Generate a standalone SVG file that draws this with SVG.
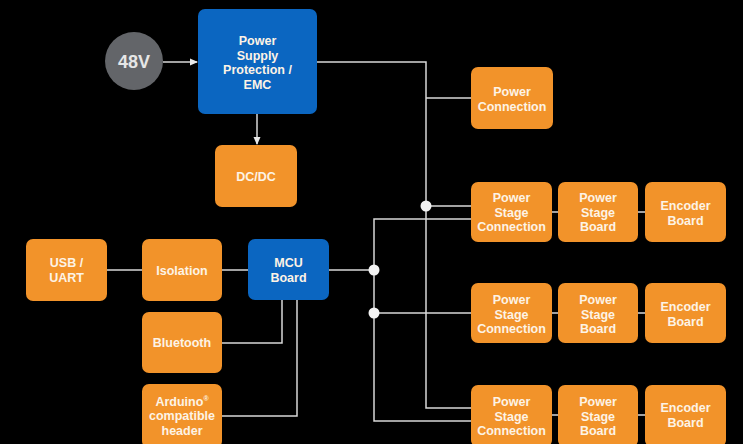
<svg xmlns="http://www.w3.org/2000/svg" width="743" height="444" viewBox="0 0 743 444">
<style>
.o{fill:#f2932a}
.b{fill:#0b66c1}
.t{font-family:"Liberation Sans",Arial,sans-serif;font-weight:bold;font-size:12.5px;fill:#fdf3e6;text-anchor:middle;dominant-baseline:central}
.c{fill:none;stroke:#d8d8d8;stroke-width:1.5}
.d{fill:#f2f2f2}
</style>
<defs>
<marker id="ah" markerWidth="8" markerHeight="8" refX="7" refY="4" orient="auto" markerUnits="userSpaceOnUse">
<path d="M0,0.5 L8,4 L0,7.5 Z" fill="#e8e8e8"/>
</marker>
</defs>
<rect width="743" height="444" fill="#000"/>
<g id="connectors">
<path class="c" d="M163,62 H197" marker-end="url(#ah)"/>
<path class="c" d="M257,114 V144" marker-end="url(#ah)"/>
<path class="c" d="M317,62 H426 V408 H471"/>
<path class="c" d="M426,98 H471"/>
<path class="c" d="M426,206 H471"/>
<path class="c" d="M471,219 H374 V421 H471"/>
<path class="c" d="M329,270 H374"/>
<path class="c" d="M374,313 H471"/>
<path class="c" d="M107,270 H142"/>
<path class="c" d="M222,270 H248"/>
<path class="c" d="M222,343 H282 V300"/>
<path class="c" d="M222,416 H297 V300"/>
<path class="c" d="M552,212 H558 M638,212 H645"/>
<path class="c" d="M552,313 H558 M638,313 H645"/>
<path class="c" d="M552,415 H558 M638,415 H645"/>
<circle class="d" cx="426" cy="206" r="5.5"/>
<circle class="d" cx="374" cy="270" r="5.5"/>
<circle class="d" cx="374" cy="313" r="5.5"/>
</g>
<g id="n48v"><circle cx="134" cy="61" r="29" fill="#636569"/><text class="t" x="134" y="62" style="font-size:18px;fill:#e6e6e6">48V</text></g>
<g id="psu"><rect class="b" x="198" y="9" width="119" height="105" rx="7"/><text class="t" x="257.5" y="41">Power</text><text class="t" x="257.5" y="55.5">Supply</text><text class="t" x="257.5" y="70">Protection /</text><text class="t" x="257.5" y="84.5">EMC</text></g>
<g id="dcdc"><rect class="o" x="215" y="145" width="82" height="62" rx="7"/><text class="t" x="256" y="177">DC/DC</text></g>
<g id="pconn"><rect class="o" x="471" y="67" width="82" height="62" rx="7"/><text class="t" x="512" y="92">Power</text><text class="t" x="512" y="107">Connection</text></g>
<g id="psc1"><rect class="o" x="471" y="182" width="81" height="60" rx="7"/><text class="t" x="511.5" y="198">Power</text><text class="t" x="511.5" y="212.5">Stage</text><text class="t" x="511.5" y="227">Connection</text></g>
<g id="psb1"><rect class="o" x="558" y="182" width="80" height="60" rx="7"/><text class="t" x="598" y="198">Power</text><text class="t" x="598" y="212.5">Stage</text><text class="t" x="598" y="227">Board</text></g>
<g id="enc1"><rect class="o" x="645" y="182" width="81" height="60" rx="7"/><text class="t" x="685.5" y="206">Encoder</text><text class="t" x="685.5" y="221">Board</text></g>
<g id="psc2"><rect class="o" x="471" y="283" width="81" height="60" rx="7"/><text class="t" x="511.5" y="300">Power</text><text class="t" x="511.5" y="314.5">Stage</text><text class="t" x="511.5" y="329">Connection</text></g>
<g id="psb2"><rect class="o" x="558" y="283" width="80" height="60" rx="7"/><text class="t" x="598" y="300">Power</text><text class="t" x="598" y="314.5">Stage</text><text class="t" x="598" y="329">Board</text></g>
<g id="enc2"><rect class="o" x="645" y="283" width="81" height="60" rx="7"/><text class="t" x="685.5" y="307">Encoder</text><text class="t" x="685.5" y="322">Board</text></g>
<g id="psc3"><rect class="o" x="471" y="385" width="81" height="62" rx="7"/><text class="t" x="511.5" y="402">Power</text><text class="t" x="511.5" y="416.5">Stage</text><text class="t" x="511.5" y="431">Connection</text></g>
<g id="psb3"><rect class="o" x="558" y="385" width="80" height="62" rx="7"/><text class="t" x="598" y="402">Power</text><text class="t" x="598" y="416.5">Stage</text><text class="t" x="598" y="431">Board</text></g>
<g id="enc3"><rect class="o" x="645" y="385" width="81" height="62" rx="7"/><text class="t" x="685.5" y="408">Encoder</text><text class="t" x="685.5" y="423">Board</text></g>
<g id="usb"><rect class="o" x="26" y="239" width="81" height="62" rx="7"/><text class="t" x="66.5" y="263">USB /</text><text class="t" x="66.5" y="278">UART</text></g>
<g id="iso"><rect class="o" x="142" y="239" width="80" height="62" rx="7"/><text class="t" x="182" y="271">Isolation</text></g>
<g id="mcu"><rect class="b" x="248" y="239" width="81" height="61" rx="7"/><text class="t" x="288.5" y="263">MCU</text><text class="t" x="288.5" y="278">Board</text></g>
<g id="bt"><rect class="o" x="142" y="312" width="80" height="61" rx="7"/><text class="t" x="182" y="343">Bluetooth</text></g>
<g id="ard"><rect class="o" x="142" y="384" width="80" height="64" rx="7"/><text class="t" x="182" y="401.5">Arduino<tspan style="font-size:7px" dy="-4">®</tspan></text><text class="t" x="182" y="416">compatible</text><text class="t" x="182" y="430.5">header</text></g>
</svg>
